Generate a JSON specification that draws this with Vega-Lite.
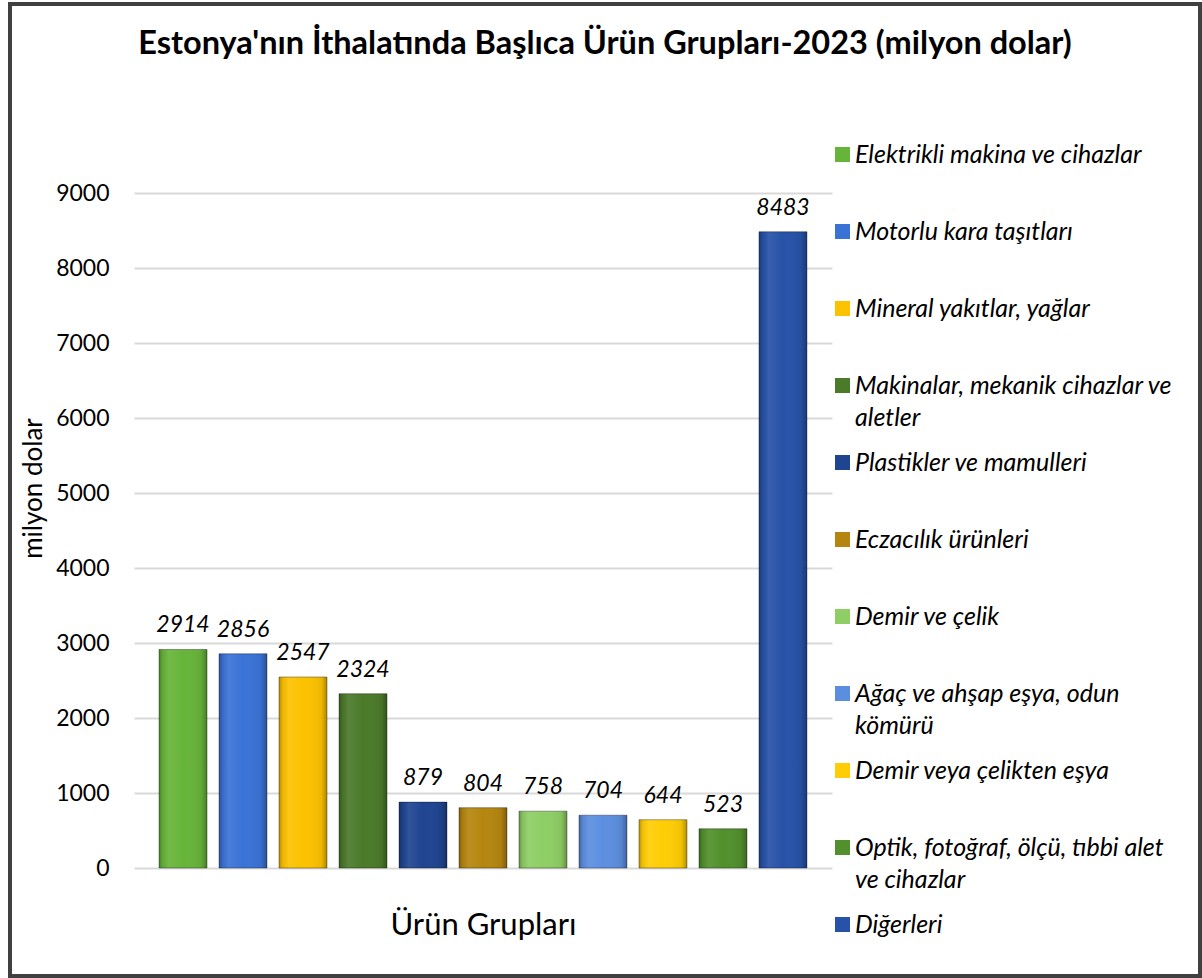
{
  "$schema": "https://vega.github.io/schema/vega-lite/v6.json",
  "width": 1190,
  "height": 972,
  "autosize": {"type": "none"},
  "padding": {"left": 10, "top": 4, "right": 2, "bottom": 2},
  "background": "white",
  "config": {
    "view": {"stroke": "#404040", "strokeWidth": 4},
    "font": "Lato"
  },
  "title": {
    "text": "Estonya'nın İthalatında Başlıca Ürün Grupları-2023 (milyon dolar)",
    "font": "Lato",
    "fontSize": 32.5,
    "fontWeight": "bold",
    "color": "black",
    "anchor": "middle",
    "baseline": "bottom",
    "offset": -89
  },
  "data": {
    "values": [
      {"urun": "Elektrikli makina ve cihazlar", "deger": 2914},
      {"urun": "Motorlu kara taşıtları", "deger": 2856},
      {"urun": "Mineral yakıtlar, yağlar", "deger": 2547},
      {"urun": "Makinalar, mekanik cihazlar ve aletler", "deger": 2324},
      {"urun": "Plastikler ve mamulleri", "deger": 879},
      {"urun": "Eczacılık ürünleri", "deger": 804},
      {"urun": "Demir ve çelik", "deger": 758},
      {"urun": "Ağaç ve ahşap eşya, odun kömürü", "deger": 704},
      {"urun": "Demir veya çelikten eşya", "deger": 644},
      {"urun": "Optik, fotoğraf, ölçü, tıbbi alet ve cihazlar", "deger": 523},
      {"urun": "Diğerleri", "deger": 8483}
    ]
  },
  "encoding": {
    "x": {
      "field": "urun",
      "type": "nominal",
      "sort": null,
      "scale": {"range": [124, 822], "paddingInner": 0.2, "paddingOuter": 0.417},
      "axis": {
        "labels": false,
        "ticks": false,
        "domain": false,
        "grid": false,
        "title": "Ürün Grupları",
        "titleFont": "Lato",
        "titleFontSize": 31,
        "titleFontWeight": "normal",
        "titleColor": "black",
        "offset": -108,
        "titleY": 57,
        "titleBaseline": "middle"
      }
    },
    "y": {
      "field": "deger",
      "type": "quantitative",
      "scale": {"domain": [0, 9000], "range": [864, 189], "nice": false},
      "axis": {
        "values": [0, 1000, 2000, 3000, 4000, 5000, 6000, 7000, 8000, 9000],
        "format": "d",
        "offset": -124,
        "domain": false,
        "ticks": false,
        "tickSize": 0,
        "labelPadding": 25,
        "labelFont": "Lato",
        "labelFontSize": 23,
        "labelColor": "black",
        "gridColor": "#d9d9d9",
        "gridWidth": 2,
        "title": "milyon dolar",
        "titleFont": "Lato",
        "titleFontSize": 26,
        "titleFontWeight": "normal",
        "titleColor": "black",
        "titleX": -101,
        "titleY": 484,
        "titleBaseline": "middle",
        "titleAngle": -90
      }
    }
  },
  "layer": [
    {
      "mark": {"type": "bar"},
      "encoding": {
        "color": {
          "field": "urun",
          "type": "nominal",
          "sort": null,
          "scale": {
            "domain": [
              "Elektrikli makina ve cihazlar",
              "Motorlu kara taşıtları",
              "Mineral yakıtlar, yağlar",
              "Makinalar, mekanik cihazlar ve aletler",
              "Plastikler ve mamulleri",
              "Eczacılık ürünleri",
              "Demir ve çelik",
              "Ağaç ve ahşap eşya, odun kömürü",
              "Demir veya çelikten eşya",
              "Optik, fotoğraf, ölçü, tıbbi alet ve cihazlar",
              "Diğerleri"
            ],
            "range": ["#67b43a", "#3a73d6", "#fcc200", "#4b7a29", "#1f4591", "#b5860f", "#8fce65", "#5c8ee0", "#ffcd05", "#51902c", "#2752a8"]
          },
          "legend": {
            "orient": "none",
            "legendX": 820,
            "legendY": 138,
            "padding": 0,
            "title": null,
            "symbolType": "square",
            "symbolSize": 225,
            "symbolStrokeWidth": 0,
            "labelFont": "Lato",
            "labelFontStyle": "italic",
            "labelFontSize": 25,
            "labelColor": "black",
            "labelLimit": 400,
            "labelOffset": 0,
            "labelBaseline": "alphabetic",
            "rowPadding": 19,
            "gridAlign": "all",
            "labelExpr": "datum.label == 'Makinalar, mekanik cihazlar ve aletler' ? ['Makinalar, mekanik cihazlar ve', 'aletler'] : datum.label == 'Ağaç ve ahşap eşya, odun kömürü' ? ['Ağaç ve ahşap eşya, odun', 'kömürü'] : datum.label == 'Optik, fotoğraf, ölçü, tıbbi alet ve cihazlar' ? ['Optik, fotoğraf, ölçü, tıbbi alet', 've cihazlar'] : datum.label",
            "encode": {
              "labels": {"update": {"dy": {"value": 8}, "lineHeight": {"value": 32}}}
            }
          }
        }
      }
    },
    {
      "mark": {
        "type": "bar",
        "stroke": "rgba(0,0,0,0.35)",
        "strokeWidth": 1,
        "fill": {
          "gradient": "linear",
          "x1": 0, "y1": 0, "x2": 1, "y2": 0,
          "stops": [
            {"offset": 0, "color": "rgba(0,0,0,0.28)"},
            {"offset": 0.08, "color": "rgba(0,0,0,0.06)"},
            {"offset": 0.2, "color": "rgba(255,255,255,0.08)"},
            {"offset": 0.5, "color": "rgba(255,255,255,0)"},
            {"offset": 0.88, "color": "rgba(0,0,0,0.06)"},
            {"offset": 1, "color": "rgba(0,0,0,0.3)"}
          ]
        }
      }
    },
    {
      "mark": {
        "type": "text",
        "font": "Lato",
        "fontStyle": "italic",
        "fontSize": 23,
        "baseline": "alphabetic",
        "dy": -17,
        "color": "black"
      },
      "encoding": {
        "text": {"field": "deger", "type": "quantitative"}
      }
    }
  ]
}
